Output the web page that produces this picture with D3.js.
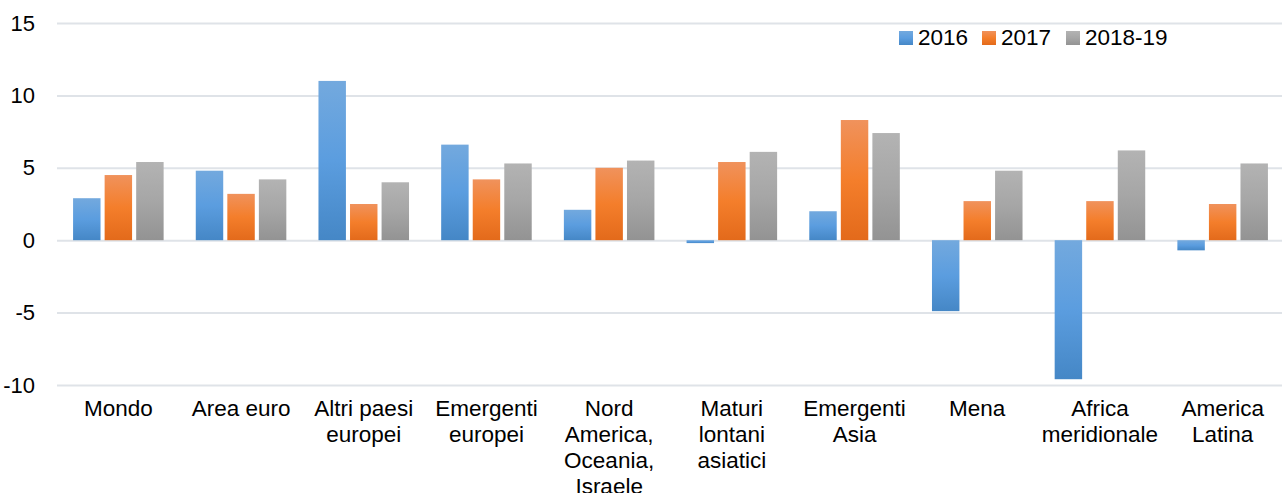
<!DOCTYPE html>
<html>
<head>
<meta charset="utf-8">
<script src="https://cdn.jsdelivr.net/npm/d3@7/dist/d3.min.js"></script>
<style>
  html, body { margin: 0; padding: 0; background: #fff; }
  svg { display: block; font-family: "Liberation Sans", Arial, sans-serif; }
</style>
</head>
<body>
<svg id="chart" width="1282" height="493"></svg>
<script>
const categories = [
  ["Mondo"],
  ["Area euro"],
  ["Altri paesi", "europei"],
  ["Emergenti", "europei"],
  ["Nord", "America,", "Oceania,", "Israele"],
  ["Maturi", "lontani", "asiatici"],
  ["Emergenti", "Asia"],
  ["Mena"],
  ["Africa", "meridionale"],
  ["America", "Latina"]
];
const seriesNames = ["2016", "2017", "2018-19"];
const values2016 = [2.9, 4.8, 11.0, 6.6, 2.1, -0.2, 2.0, -4.9, -9.6, -0.7];
const values2017 = [4.5, 3.2, 2.5, 4.2, 5.0, 5.4, 8.3, 2.7, 2.7, 2.5];
const values2018 = [5.4, 4.2, 4.0, 5.3, 5.5, 6.1, 7.4, 4.8, 6.2, 5.3];
const yTicks = [-10, -5, 0, 5, 10, 15];
const yTickLabels = ["-10", "-5", "0", "5", "10", "15"];

const seriesValues = [values2016, values2017, values2018];
const gradStops = [
  ["#73a9de", "#5b9ddf", "#4587c6"],
  ["#f0925c", "#f47e2b", "#e36a1b"],
  ["#b3b3b3", "#a6a6a6", "#939393"]
];

const svg = d3.select("#chart");
const catKeys = categories.map((c, i) => "c" + i);

const x0 = d3.scaleBand().domain(catKeys).range([57, 1284])
  .paddingInner(0.262).paddingOuter(0.131);
const x1 = d3.scaleBand().domain(seriesNames).range([0, x0.bandwidth()])
  .paddingInner(0.13).paddingOuter(0);
const y = d3.scaleLinear().domain([-10, 15]).range([385, 23]);

// gradients
const defs = svg.append("defs");
seriesNames.forEach((s, i) => {
  const g = defs.append("linearGradient").attr("id", "g" + i)
    .attr("x1", 0).attr("y1", 0).attr("x2", 0).attr("y2", 1);
  g.append("stop").attr("offset", "0%").attr("stop-color", gradStops[i][0]);
  g.append("stop").attr("offset", "50%").attr("stop-color", gradStops[i][1]);
  g.append("stop").attr("offset", "100%").attr("stop-color", gradStops[i][2]);
});

// gridlines + y labels
const yAxis = d3.axisLeft(y).tickValues(yTicks).tickSize(-(1282 - 57)).tickPadding(22)
  .tickFormat((d, i) => yTickLabels[i]);
const ga = svg.append("g").attr("transform", "translate(57,0)").call(yAxis);
ga.select(".domain").remove();
ga.selectAll(".tick line").attr("stroke", "#dfe3e8").attr("stroke-width", 2);
ga.selectAll(".tick text").attr("font-size", "22px").attr("fill", "#000")
  .attr("font-family", "Liberation Sans, Arial, sans-serif");

// bars
const groups = svg.append("g").selectAll("g").data(catKeys).join("g")
  .attr("transform", d => `translate(${x0(d)},0)`);
groups.selectAll("rect")
  .data((d, ci) => seriesNames.map((s, si) => ({ s, si, v: seriesValues[si][ci] })))
  .join("rect")
  .attr("x", d => x1(d.s))
  .attr("width", x1.bandwidth())
  .attr("y", d => y(Math.max(0, d.v)))
  .attr("height", d => Math.abs(y(d.v) - y(0)))
  .attr("fill", d => `url(#g${d.si})`);

// category labels
const xa = svg.append("g");
categories.forEach((lines, i) => {
  const cx = x0(catKeys[i]) + x0.bandwidth() / 2;
  const t = xa.append("text").attr("text-anchor", "middle")
    .attr("font-size", "22.5px").attr("fill", "#000");
  lines.forEach((ln, j) => {
    t.append("tspan").attr("x", cx).attr("y", 416 + j * 26).text(ln);
  });
});

// legend
const legendX = [899, 982, 1066];
const lg = svg.append("g");
seriesNames.forEach((s, i) => {
  lg.append("rect").attr("x", legendX[i]).attr("y", 31).attr("width", 14).attr("height", 14)
    .attr("fill", `url(#g${i})`);
  lg.append("text").attr("x", legendX[i] + 19).attr("y", 45)
    .attr("font-size", "22.5px").attr("fill", "#000").text(s);
});
</script>
</body>
</html>
